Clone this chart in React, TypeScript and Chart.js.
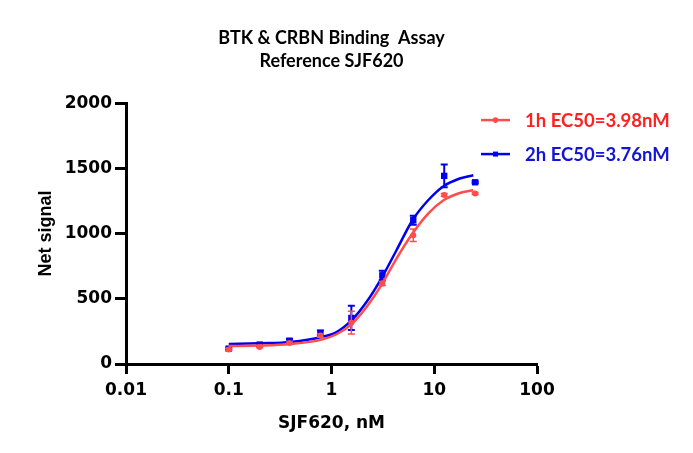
import { useEffect, useRef } from 'react';
import { Chart, registerables } from 'chart.js';

Chart.register(...registerables);

// measured points (nM, net signal)
const conc = [0.1, 0.2, 0.39, 0.78, 1.56, 3.125, 6.25, 12.5, 25];
const signal1h = [112, 130, 161, 218, 317, 617, 987, 1296, 1307];
const err1h = [8, 6, 8, 12, 87, 15, 48, 10, 8];
const signal2h = [118, 149, 179, 238, 353, 680, 1102, 1442, 1393];
const err2h = [8, 8, 12, 18, 93, 35, 35, 87, 8];

// fitted curves
const fitConc = [0.1, 0.2, 0.4, 0.8, 1.12, 1.59, 2.19, 3.09, 4.29, 6.14, 8.72, 12.3, 17.7, 24];
const fit1h = [138, 141, 153, 187, 228, 310, 437, 611, 808, 1000, 1153, 1255, 1311, 1332];
const fit2h = [153, 159, 169, 207, 245, 340, 475, 663, 872, 1102, 1255, 1363, 1422, 1447];

const xTicks = [0.01, 0.1, 1, 10, 100];
const label1h = '1h EC50=3.98nM';
const label2h = '2h EC50=3.76nM';

const RED = 'rgb(255,77,77)';
const BLUE = 'rgb(0,0,240)';

const toPts = (xs: number[], ys: number[]) => xs.map((x, i) => ({ x, y: ys[i] }));

const errorBars = {
  id: 'errorBars',
  afterDatasetDraw(chart: any, args: any) {
    const ds = chart.data.datasets[args.index];
    if (!ds.errors) return;
    const { ctx, scales } = chart;
    ctx.save();
    ctx.strokeStyle = ds.borderColor;
    ctx.lineWidth = ds.errWidth || 1.5;
    ds.data.forEach((p: any, i: number) => {
      const e = ds.errors[i];
      const x = scales.x.getPixelForValue(p.x);
      const y1 = scales.y.getPixelForValue(p.y + e);
      const y2 = scales.y.getPixelForValue(p.y - e);
      ctx.beginPath();
      ctx.moveTo(x, y1);
      ctx.lineTo(x, y2);
      ctx.moveTo(x - 3.5, y1);
      ctx.lineTo(x + 3.5, y1);
      ctx.moveTo(x - 3.5, y2);
      ctx.lineTo(x + 3.5, y2);
      ctx.stroke();
    });
    ctx.restore();
  },
};

const sideLegend = {
  id: 'sideLegend',
  afterDraw(chart: any) {
    const { ctx, chartArea } = chart;
    const items = [
      { text: label1h, line: RED, color: '#ff2020', style: 'circle', dy: 17 },
      { text: label2h, line: BLUE, color: '#1414d8', style: 'rect', dy: 51 },
    ];
    ctx.save();
    items.forEach((it) => {
      const x0 = chartArea.right - 56;
      const y = chartArea.top + it.dy;
      ctx.strokeStyle = it.line;
      ctx.lineWidth = 2.5;
      ctx.beginPath();
      ctx.moveTo(x0, y);
      ctx.lineTo(x0 + 29, y);
      ctx.stroke();
      ctx.fillStyle = it.line;
      if (it.style === 'circle') {
        ctx.beginPath();
        ctx.arc(x0 + 14.5, y, 2.8, 0, Math.PI * 2);
        ctx.fill();
      } else {
        ctx.fillRect(x0 + 12, y - 2.5, 5, 5);
      }
      ctx.fillStyle = it.color;
      ctx.font = 'bold 18.5px Lato';
      ctx.textBaseline = 'middle';
      ctx.textAlign = 'left';
      ctx.fillText(it.text, x0 + 44, y + 1);
    });
    ctx.restore();
  },
};

export default function App() {
  const canvasRef = useRef<HTMLCanvasElement>(null);
  const chartRef = useRef<Chart | null>(null);

  useEffect(() => {
    if (!canvasRef.current) return;
    if (chartRef.current) chartRef.current.destroy();
    chartRef.current = new Chart(canvasRef.current, {
      type: 'scatter',
      data: {
        datasets: [
          {
            label: label1h,
            data: toPts(conc, signal1h),
            errors: err1h,
            errWidth: 1.5,
            borderColor: RED,
            backgroundColor: RED,
            pointStyle: 'circle',
            pointRadius: 3,
            pointBorderWidth: 0,
            showLine: false,
          },
          {
            data: toPts(fitConc, fit1h),
            borderColor: RED,
            borderWidth: 2.5,
            pointRadius: 0,
            showLine: true,
            cubicInterpolationMode: 'monotone',
          },
          {
            label: label2h,
            data: toPts(conc, signal2h),
            errors: err2h,
            errWidth: 2,
            borderColor: BLUE,
            backgroundColor: BLUE,
            pointStyle: 'rect',
            pointRadius: 4.5,
            pointBorderWidth: 0,
            showLine: false,
          },
          {
            data: toPts(fitConc, fit2h),
            borderColor: BLUE,
            borderWidth: 2.5,
            pointRadius: 0,
            showLine: true,
            cubicInterpolationMode: 'monotone',
          },
        ] as any,
      },
      options: {
        animation: false,
        responsive: true,
        maintainAspectRatio: false,
        layout: { padding: { left: 0, right: 156, top: 0, bottom: 0 } },
        plugins: {
          legend: { display: false },
          tooltip: { enabled: false },
          title: {
            display: true,
            fullSize: false,
            text: ['BTK & CRBN Binding  Assay', 'Reference SJF620'],
            color: '#000',
            font: { family: 'Lato', weight: 'bold', size: 18, lineHeight: 1.28 },
            padding: { top: 27, bottom: 30 },
          },
        },
        scales: {
          x: {
            type: 'logarithmic',
            min: 0.01,
            max: 100,
            afterBuildTicks: (s: any) => {
              s.ticks = xTicks.map((v) => ({ value: v }));
            },
            afterFit: (s: any) => {
              s.height = 89;
            },
            ticks: {
              autoSkip: false,
              maxRotation: 0,
              color: '#000',
              padding: 6,
              font: { family: 'DejaVu Sans', weight: 'bold', size: 17 },
              callback: (v: any) => String(v),
            },
            grid: {
              drawOnChartArea: false,
              drawTicks: true,
              tickLength: 10,
              tickWidth: 3,
              color: '#000',
            },
            border: { display: true, color: '#000', width: 3 },
            title: {
              display: true,
              text: 'SJF620, nM',
              color: '#000',
              font: { family: 'DejaVu Sans', weight: 'bold', size: 17 },
              padding: { top: 0, bottom: 19 },
            },
          },
          y: {
            min: 0,
            max: 2000,
            afterFit: (s: any) => {
              s.width = 126;
            },
            ticks: {
              stepSize: 500,
              color: '#000',
              padding: 3,
              font: { family: 'DejaVu Sans', weight: 'bold', size: 17 },
              callback: (v: any) => String(v),
            },
            grid: {
              drawOnChartArea: false,
              drawTicks: true,
              tickLength: 11,
              tickWidth: 3,
              color: '#000',
            },
            border: { display: true, color: '#000', width: 3 },
            title: {
              display: true,
              text: 'Net signal',
              color: '#000',
              font: { family: 'Liberation Sans', weight: 'bold', size: 18 },
              padding: { top: 35, bottom: 0 },
            },
          },
        },
      } as any,
      plugins: [errorBars, sideLegend],
    });
    return () => {
      if (chartRef.current) {
        chartRef.current.destroy();
        chartRef.current = null;
      }
    };
  }, []);

  return (
    <div style={{ position: 'absolute', left: 0, top: 0, width: 693, height: 453, background: '#fff' }}>
      <canvas ref={canvasRef} />
    </div>
  );
}
